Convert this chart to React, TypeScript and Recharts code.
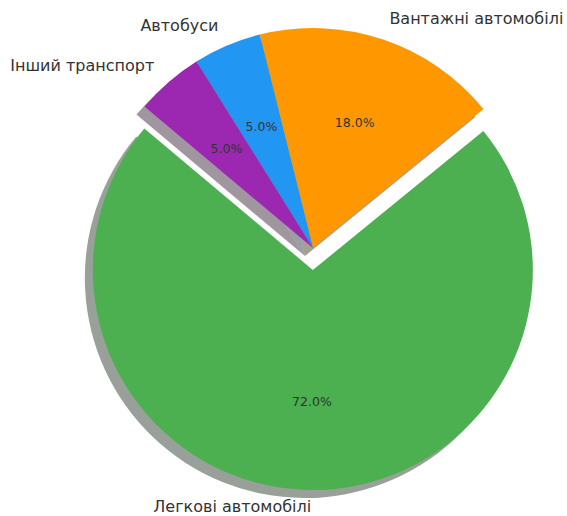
import React from "react";
import { PieChart, Pie, Cell } from "recharts";

const names = ["Легкові автомобілі", "Вантажні автомобілі", "Автобуси", "Інший транспорт"];
const shares = [72, 18, 5, 5];
const colors = ["#4CAF50", "#FF9800", "#2196F3", "#9C27B0"];
const explode = [0.1, 0, 0, 0];

const W = 567;
const H = 516;
const CX = 313;
const CY = 248;
const R = 220;
const START = 140;
const SHADOW = 8;
const RAD = Math.PI / 180;

const data = names.map((name, i) => ({ name, value: shares[i] }));
const total = shares.reduce((a, b) => a + b, 0);

// where each wedge sits once it is pushed out along its middle angle
const centers = shares.map((v, i) => {
    const before = shares.slice(0, i).reduce((a, b) => a + b, 0);
    const mid = START + ((before + v / 2) / total) * 360;
    const d = explode[i] * R;
    return { x: CX + d * Math.cos(mid * RAD), y: CY - d * Math.sin(mid * RAD) };
});

// matplotlib-like shadow, a bit greyer
const shade = (hex: string) => {
    const n = parseInt(hex.slice(1), 16);
    const mix = (c: number) => Math.round(c * 0.15 + 40);
    const r = mix((n >> 16) & 255);
    const g = mix((n >> 8) & 255);
    const b = mix(n & 255);
    return `rgb(${r},${g},${b})`;
};

const makeLabel = (slice: number) => (props: any) => {
    const { cx, cy, midAngle, percent, index, name } = props;
    if (index !== slice) return null;
    const cos = Math.cos(-midAngle * RAD);
    const sin = Math.sin(-midAngle * RAD);
    const lx = cx + 1.1 * R * cos;
    // keep the bottom label inside the picture
    const ly = Math.min(cy + 1.1 * R * sin, H - 10);
    const px = cx + 0.6 * R * cos;
    const py = cy + 0.6 * R * sin;
    return (
        <g>
            <text
                x={lx}
                y={ly}
                textAnchor={lx > CX ? "start" : "end"}
                dominantBaseline="central"
                fill="#333"
                fontSize={16}
                fontFamily="DejaVu Sans"
            >
                {name}
            </text>
            <text
                x={px}
                y={py}
                textAnchor="middle"
                dominantBaseline="central"
                fill="#333"
                fontSize={12.5}
                fontFamily="DejaVu Sans"
            >
                {(percent * 100).toFixed(1)}%
            </text>
        </g>
    );
};

export default function App() {
    return (
        <div style={{ position: "absolute", left: 0, top: 0, background: "#fff" }}>
            <PieChart width={W} height={H} margin={{ top: 0, right: 0, bottom: 0, left: 0 }}>
                {data.map((_, i) => (
                    <Pie
                        key={"shadow" + i}
                        data={data}
                        dataKey="value"
                        nameKey="name"
                        cx={centers[i].x - SHADOW}
                        cy={centers[i].y + SHADOW}
                        outerRadius={R}
                        startAngle={START}
                        endAngle={START + 360}
                        stroke="none"
                        labelLine={false}
                        isAnimationActive={false}
                    >
                        {data.map((d, j) => (
                            <Cell key={d.name} fill={j === i ? shade(colors[j]) : "none"} fillOpacity={0.5} />
                        ))}
                    </Pie>
                ))}
                {data.map((_, i) => (
                    <Pie
                        key={"wedge" + i}
                        data={data}
                        dataKey="value"
                        nameKey="name"
                        cx={centers[i].x}
                        cy={centers[i].y}
                        outerRadius={R}
                        startAngle={START}
                        endAngle={START + 360}
                        stroke="none"
                        labelLine={false}
                        label={makeLabel(i)}
                        isAnimationActive={false}
                    >
                        {data.map((d, j) => (
                            <Cell key={d.name} fill={j === i ? colors[j] : "none"} />
                        ))}
                    </Pie>
                ))}
            </PieChart>
        </div>
    );
}
